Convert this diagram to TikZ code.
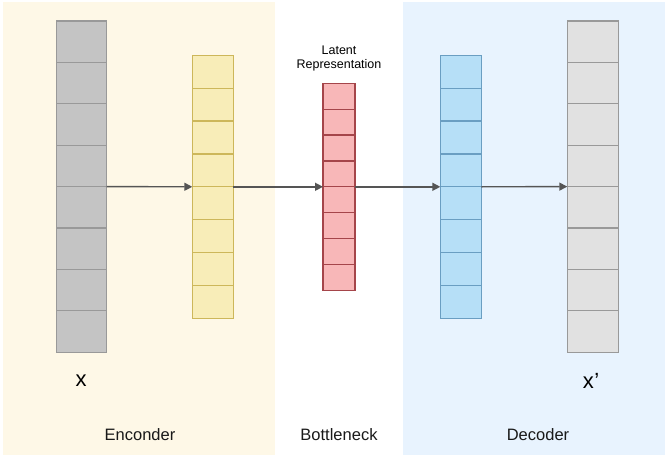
\documentclass[tikz,border=0pt]{standalone}
\usepackage{fontspec}
\setmainfont{Liberation Sans}
\usetikzlibrary{arrows.meta,calc}
\definecolor{encbg}{HTML}{FEF8E7}
\definecolor{decbg}{HTML}{E8F3FE}
\definecolor{grayfill}{HTML}{C4C4C4}
\definecolor{graydraw}{HTML}{999999}
\definecolor{yelfill}{HTML}{F8EDB8}
\definecolor{yeldraw}{HTML}{CDB75A}
\definecolor{redfill}{HTML}{F8B7B8}
\definecolor{reddraw}{HTML}{A5454A}
\definecolor{bluefill}{HTML}{B6DFF7}
\definecolor{bluedraw}{HTML}{6A9EC2}
\definecolor{gray2fill}{HTML}{E1E1E1}
\definecolor{arrowcol}{HTML}{555555}
\tikzset{
  colbox/.style={draw, line width=1.2pt, inner sep=0pt, outer sep=0pt},
  cellline/.style={line width=1.2pt},
  flow/.style={draw=arrowcol, line width=1.4pt, -{Triangle[length=8pt,width=8pt]}},
  label/.style={font=\fontsize{16.5}{18}\selectfont, text=black!90, inner sep=0pt},
  vlabel/.style={font=\fontsize{22}{24}\selectfont, inner sep=0pt},
  small/.style={font=\fontsize{12.5}{15}\selectfont, align=center, inner sep=0pt}
}
\begin{document}
\begin{tikzpicture}[x=1pt,y=-1pt]
\useasboundingbox (0,0) rectangle (668,460);
\fill[white] (0,0) rectangle (668,460);
\fill[encbg] (3,2) rectangle (275,455);
\fill[decbg] (403,2) rectangle (665,455);
% columns
\node[colbox, fill=grayfill, draw=graydraw, minimum width=50pt, minimum height=331pt] (g1) at (81.5,186.6) {};
\node[colbox, fill=yelfill, draw=yeldraw, minimum width=41pt, minimum height=263pt] (y1) at (212.8,186.8) {};
\node[colbox, fill=redfill, draw=reddraw, minimum width=32pt, minimum height=207pt] (r1) at (339,186.8) {};
\node[colbox, fill=bluefill, draw=bluedraw, minimum width=41pt, minimum height=263pt] (b1) at (460.8,186.8) {};
\node[colbox, fill=gray2fill, draw=graydraw, minimum width=51pt, minimum height=331pt] (g2) at (592.8,186.6) {};
% cell dividers
\foreach \n/\c in {g1/graydraw, y1/yeldraw, r1/reddraw, b1/bluedraw, g2/graydraw}{
  \foreach \i in {1,...,7}{
    \draw[cellline, draw=\c] ($(\n.north west)!\i/8!(\n.south west)$) -- ($(\n.north east)!\i/8!(\n.south east)$);
  }
}
% arrows
\draw[flow] (g1.east) -- (y1.west);
\draw[flow] (y1.east) -- (r1.west);
\draw[flow] (r1.east) -- (b1.west);
\draw[flow] (b1.east) -- (g2.west);
% labels
\node[vlabel] (lx) at (81,381) {x};
\node[vlabel] (lx2) at (591,381) {x\kern0.5pt’};
\node[small] (lat) at (339,58) {Latent\\[-1pt]Representation};
\node[label] (enc) at (140,435) {Enconder};
\node[label] (bot) at (339,435) {Bottleneck};
\node[label] (dec) at (538,435) {Decoder};
\end{tikzpicture}
\end{document}
